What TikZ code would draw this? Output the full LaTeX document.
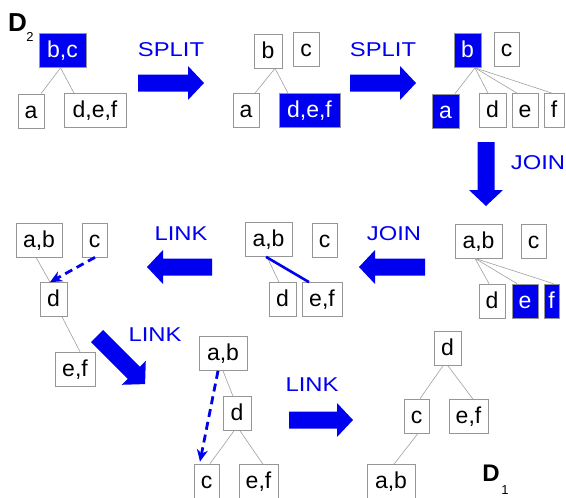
\documentclass[tikz,border=0pt]{standalone}
\usepackage{fontspec}
\setmainfont{Liberation Sans}
\newfontfamily\lblfont[FakeStretch=1.19]{Liberation Sans}
\usetikzlibrary{arrows.meta}
\definecolor{ablue}{RGB}{0,0,240}
\definecolor{boxgray}{RGB}{150,150,150}
\definecolor{edgegray}{RGB}{160,160,160}
\newcommand\fatarr[3]{\fill[ablue,shift={#1},rotate=#2] (0,-8.5) -- ({#3-16},-8.5) -- ({#3-16},-17) -- (#3,0) -- ({#3-16},17) -- ({#3-16},8.5) -- (0,8.5) -- cycle;}
\begin{document}
\begin{tikzpicture}[x=1pt,y=-1pt,
  bx/.style={draw=boxgray, line width=0.7pt, fill=white, minimum height=34pt, inner sep=0pt,
    font=\fontsize{23}{27}\selectfont, text height=16.5pt, text depth=2pt},
  bbx/.style={bx, fill=ablue, text=white},
  edge/.style={draw=edgegray, line width=0.6pt},
  lbl/.style={text=ablue, inner sep=0pt, font=\lblfont\fontsize{20}{24}\selectfont},
  dasharrow/.style={draw=ablue, line width=2.8pt, dash pattern=on 8pt off 5pt, -{Stealth[length=12pt,width=11pt]}},
  dlbl/.style={inner sep=0pt, font=\bfseries\fontsize{26}{30}\selectfont},
  sublbl/.style={inner sep=0pt, font=\fontsize{13}{15}\selectfont}]
\useasboundingbox (0,0) rectangle (566,498);
\fill[white] (0,0) rectangle (566,498);

% labels D2, D1
\node[dlbl] (D2) at (17.5,22.5) {D};
\node[sublbl] (D2s) at (30,36.5) {2};
\node[dlbl,font=\bfseries\fontsize{24}{28}\selectfont] (D1) at (491,473) {D};
\node[sublbl] (D1s) at (505,490) {1};

% tree 1
\node[bbx, minimum width=47pt] (T1bc) at (62.5,50.5) {b,c};
\node[bx, minimum width=26pt] (T1a) at (31,111) {a};
\node[bx, minimum width=62pt] (T1def) at (95,110.5) {d,e,f};
\draw[edge] ([xshift=-2pt]T1bc.south) -- ([xshift=10pt]T1a.north);
\draw[edge] ([xshift=-2pt]T1bc.south) -- ([xshift=-21pt]T1def.north);

% tree 2
\node[bx, minimum width=28pt] (T2b) at (268,51) {b};
\node[bx, minimum width=26pt] (T2c) at (306,49) {c};
\node[bx, minimum width=26pt] (T2a) at (246,110.5) {a};
\node[bbx, minimum width=61pt] (T2def) at (309.5,110.5) {d,e,f};
\draw[edge] ([xshift=7pt]T2b.south) -- ([xshift=9pt]T2a.north);
\draw[edge] ([xshift=7pt]T2b.south) -- ([xshift=-21.5pt]T2def.north);

% tree 3
\node[bbx, minimum width=27pt] (T3b) at (467.5,50.5) {b};
\node[bx, minimum width=25pt] (T3c) at (506.5,49) {c};
\node[bbx, minimum width=27pt] (T3a) at (445.5,111) {a};
\node[bx, minimum width=27pt] (T3d) at (492.5,110.5) {d};
\node[bx, minimum width=26pt] (T3e) at (525,110.5) {e};
\node[bx, minimum width=20pt] (T3f) at (554,110.5) {f};
\draw[edge] ([xshift=7.5pt]T3b.south) -- ([xshift=9.5pt]T3a.north);
\draw[edge] ([xshift=7.5pt]T3b.south) -- ([xshift=-4.5pt]T3d.north);
\draw[edge] ([xshift=7.5pt]T3b.south) -- ([xshift=-8pt]T3e.north);
\draw[edge] ([xshift=7.5pt]T3b.south) -- ([xshift=-2pt]T3f.north);

% tree 4
\node[bx, minimum width=47pt] (T4ab) at (478.5,241) {a,b};
\node[bx, minimum width=25pt] (T4c) at (533.5,241.5) {c};
\node[bx, minimum width=26pt] (T4d) at (492,301) {d};
\node[bbx, minimum width=26pt] (T4e) at (525,301) {e};
\node[bbx, minimum width=15pt] (T4f) at (551.5,301) {f};
\draw[edge] ([xshift=-3.5pt]T4ab.south) -- ([xshift=-3pt]T4d.north);
\draw[edge] ([xshift=-3.5pt]T4ab.south) -- ([xshift=-8pt]T4e.north);
\draw[edge] ([xshift=-3.5pt]T4ab.south) -- ([xshift=2pt]T4f.north);

% tree 5
\node[bx, minimum width=47pt] (T5ab) at (268.5,239.5) {a,b};
\node[bx, minimum width=25pt] (T5c) at (324.5,240) {c};
\node[bx, minimum width=27pt] (T5d) at (282.5,299.5) {d};
\node[bx, minimum width=40pt] (T5ef) at (322,299.5) {e,f};
\draw[edge] ([xshift=-1.5pt]T5ab.south) -- ([xshift=-3.5pt]T5d.north);
\draw[draw=ablue, line width=2.6pt] ([xshift=-2.5pt]T5ab.south) -- ([xshift=-13pt]T5ef.north);

% tree 6
\node[bx, minimum width=46pt] (T6ab) at (39,240) {a,b};
\node[bx, minimum width=25pt] (T6c) at (94.5,240) {c};
\node[bx, minimum width=27pt] (T6d) at (53.5,299.5) {d};
\node[bx, minimum width=40pt] (T6ef) at (75,369) {e,f};
\draw[edge] ([xshift=-3pt]T6ab.south) -- ([xshift=-3.5pt]T6d.north);
\draw[edge] ([xshift=8.5pt]T6d.south) -- ([xshift=5pt]T6ef.north);
\draw[dasharrow] ([xshift=0.5pt]T6c.south) -- ([xshift=-3.5pt]T6d.north);

% tree 7
\node[bx, minimum width=48pt] (T7ab) at (223,353.5) {a,b};
\node[bx, minimum width=28pt] (T7d) at (237,413.5) {d};
\node[bx, minimum width=25pt] (T7c) at (206.5,481) {c};
\node[bx, minimum width=39pt] (T7ef) at (258.5,481.5) {e,f};
\draw[edge] (T7ab.south) -- ([xshift=-4pt]T7d.north);
\draw[edge] ([xshift=-3pt]T7d.south) -- ([xshift=3.5pt]T7c.north);
\draw[edge] ([xshift=3pt]T7d.south) -- ([xshift=4.5pt]T7ef.north);
\draw[dasharrow] ([xshift=-5pt]T7ab.south) -- ([xshift=-6.5pt,yshift=2pt]T7c.north);

% tree 8
\node[bx, minimum width=27pt] (T8d) at (447.5,348.5) {d};
\node[bx, minimum width=25pt] (T8c) at (416.5,416) {c};
\node[bx, minimum width=39pt] (T8ef) at (468.5,416.5) {e,f};
\node[bx, minimum width=48pt] (T8ab) at (391,481.5) {a,b};
\draw[edge] ([xshift=-4.5pt]T8d.south) -- ([xshift=3.5pt]T8c.north);
\draw[edge] ([xshift=0.5pt]T8d.south) -- ([xshift=4.5pt]T8ef.north);
\draw[edge] ([xshift=1.5pt]T8c.south) -- ([xshift=3pt]T8ab.north);

% operation labels
\node[lbl] (L1) at (171,50) {SPLIT};
\node[lbl] (L2) at (383,50) {SPLIT};
\node[lbl] (L3) at (538,163) {JOIN};
\node[lbl] (L4) at (394,234) {JOIN};
\node[lbl] (L5) at (181,234) {LINK};
\node[lbl] (L6) at (155,335) {LINK};
\node[lbl] (L7) at (312,385) {LINK};

% fat arrows
\fatarr{(138,83)}{0}{66}
\fatarr{(350,83)}{0}{66}
\fatarr{(486,142)}{-90}{64}
\fatarr{(425,267)}{180}{66}
\fatarr{(212,267)}{180}{65}
\fatarr{(97,336)}{-45}{68}
\fatarr{(289,420)}{0}{64}
\end{tikzpicture}
\end{document}
